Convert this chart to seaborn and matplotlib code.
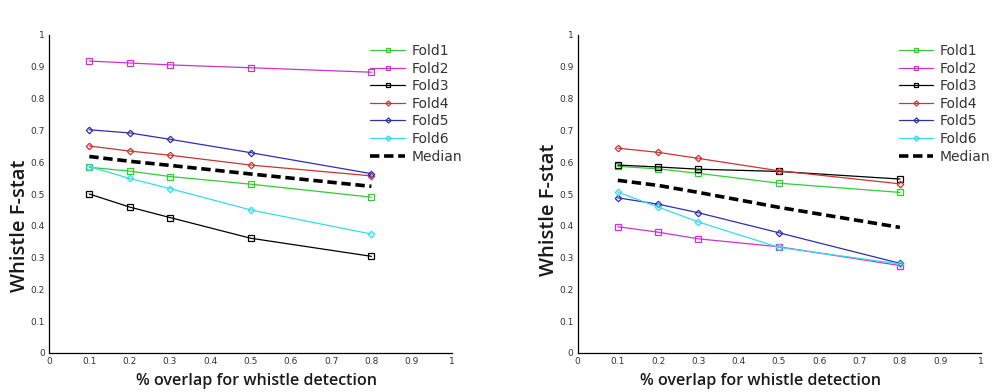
import numpy as np
import pandas as pd
import matplotlib
matplotlib.use("Agg")
import matplotlib.pyplot as plt
import seaborn as sns

sns.set_style("white")
plt.rcParams['font.family'] = ['DejaVu Sans']

overlap = [0.1, 0.2, 0.3, 0.5, 0.8]
series_names = ["Fold1", "Fold2", "Fold3", "Fold4", "Fold5", "Fold6", "Median"]

left_fold1 = [0.584, 0.572, 0.555, 0.531, 0.490]
left_fold2 = [0.918, 0.912, 0.906, 0.897, 0.883]
left_fold3 = [0.500, 0.459, 0.426, 0.361, 0.304]
left_fold4 = [0.651, 0.635, 0.622, 0.591, 0.557]
left_fold5 = [0.702, 0.692, 0.672, 0.630, 0.564]
left_fold6 = [0.586, 0.549, 0.517, 0.450, 0.374]
left_median = [0.618, 0.603, 0.590, 0.563, 0.524]

right_fold1 = [0.587, 0.579, 0.565, 0.534, 0.505]
right_fold2 = [0.397, 0.380, 0.359, 0.334, 0.275]
right_fold3 = [0.591, 0.585, 0.578, 0.571, 0.547]
right_fold4 = [0.644, 0.631, 0.612, 0.573, 0.532]
right_fold5 = [0.488, 0.468, 0.441, 0.378, 0.282]
right_fold6 = [0.506, 0.459, 0.412, 0.332, 0.280]
right_median = [0.543, 0.527, 0.505, 0.458, 0.395]

x_ticks = [0, 0.1, 0.2, 0.3, 0.4, 0.5, 0.6, 0.7, 0.8, 0.9, 1]
x_tick_labels = ["0", "0.1", "0.2", "0.3", "0.4", "0.5", "0.6", "0.7", "0.8", "0.9", "1"]
y_ticks = x_ticks
y_tick_labels = x_tick_labels

xlabel = "% overlap for whistle detection"
ylabel = "Whistle F-stat"

colors = {"Fold1": "#33cc33", "Fold2": "#cc33cc", "Fold3": "#000000",
          "Fold4": "#cc3333", "Fold5": "#2e2eb0", "Fold6": "#33ddee", "Median": "#000000"}
markers = {"Fold1": "s", "Fold2": "s", "Fold3": "s", "Fold4": "D",
           "Fold5": "D", "Fold6": "D"}


def build(vals):
    rows = []
    for name, v in zip(series_names, vals):
        for x, y in zip(overlap, v):
            rows.append({"overlap": x, "fstat": y, "series": name})
    return pd.DataFrame(rows)


df_left = build([left_fold1, left_fold2, left_fold3, left_fold4, left_fold5, left_fold6, left_median])
df_right = build([right_fold1, right_fold2, right_fold3, right_fold4, right_fold5, right_fold6, right_median])

fig = plt.figure(figsize=(9.92, 3.92), dpi=100)
ax1 = fig.add_axes([49/992, 1-353/392, 403/992, 318/392])
ax2 = fig.add_axes([577.5/992, 1-353/392, 403/992, 318/392])


def draw(ax, df, xlab_x, ylab_y):
    for name in series_names:
        sub = df[df.series == name]
        if name == "Median":
            sns.lineplot(data=sub, x="overlap", y="fstat", ax=ax, color="black",
                         linewidth=2.6, label=name, estimator=None, sort=False)
            ax.lines[-1].set_dashes([2.6, 1.3])
        else:
            ms = 4.4 if markers[name] == "s" else 3.3
            sns.lineplot(data=sub, x="overlap", y="fstat", ax=ax, color=colors[name],
                         linewidth=0.9, marker=markers[name], markersize=ms,
                         markerfacecolor="none", markeredgecolor=colors[name],
                         markeredgewidth=0.9, label=name, estimator=None, sort=False)
    ax.set_xlim(0, 1)
    ax.set_ylim(0, 1)
    ax.set_xticks(x_ticks)
    ax.set_xticklabels(x_tick_labels, fontsize=6.5, color="#333333")
    ax.set_yticks(y_ticks)
    ax.set_yticklabels(y_tick_labels, fontsize=6.5, color="#333333")
    ax.tick_params(direction="in", length=3, width=0.8, pad=3, colors="#333333")
    ax.tick_params(axis="both", labelcolor="#333333")
    for s in ["top", "right"]:
        ax.spines[s].set_visible(False)
    for s in ["left", "bottom"]:
        ax.spines[s].set_color("black")
        ax.spines[s].set_linewidth(0.9)
    ax.set_xlabel(xlabel, fontsize=11.6, fontweight="semibold",
                  family=["Open Sans", "DejaVu Sans"], color="#1a1a1a")
    ax.xaxis.set_label_coords(xlab_x, -0.062)
    ax.set_ylabel(ylabel, fontsize=14.5, fontweight="semibold",
                  family=["Open Sans", "DejaVu Sans"], color="#1a1a1a")
    ax.yaxis.set_label_coords(-0.046, ylab_y)
    leg = ax.legend(loc="upper left", bbox_to_anchor=(0.797, 0.972), frameon=False,
                    fontsize=10, handlelength=2.5, handletextpad=0.45,
                    labelspacing=0.26, borderaxespad=0, borderpad=0, markerscale=0.8)
    for t in leg.get_texts():
        t.set_color("#333333")


draw(ax1, df_left, 0.515, 0.40)
draw(ax2, df_right, 0.453, 0.45)

fig.savefig("out.png", dpi=100)
